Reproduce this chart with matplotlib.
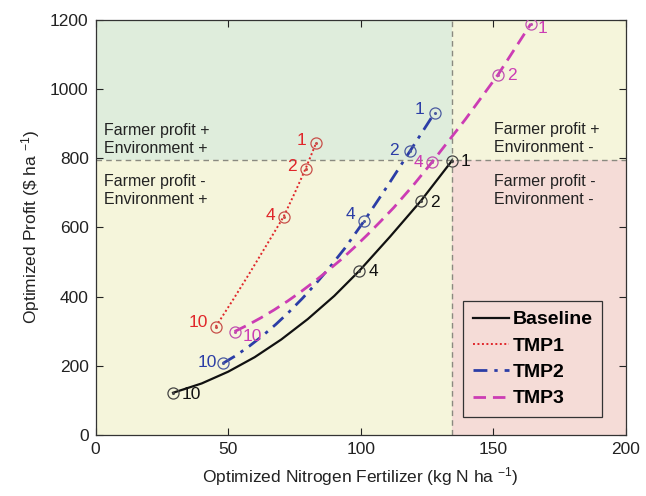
import matplotlib
matplotlib.use("Agg")
import matplotlib.pyplot as plt
from matplotlib.patches import Rectangle

plt.rcParams['font.family'] = ['Liberation Sans', 'DejaVu Sans']
plt.rcParams['mathtext.fontset'] = 'custom'
plt.rcParams['mathtext.rm'] = 'Liberation Sans'
plt.rcParams['mathtext.it'] = 'Liberation Sans'

# Scenario labels at the marked points (price ratio steps)
point_labels = ["1", "2", "4", "10"]

# Baseline
base_curve_n = [29.2, 40.0, 50.0, 60.0, 70.0, 80.0, 90.0, 99.5, 111.0, 122.7, 134.4]
base_curve_p = [122, 149, 183, 225, 276, 335, 402, 475, 573, 677, 793]
base_pts_n = [134.4, 122.7, 99.5, 29.2]
base_pts_p = [793, 677, 475, 122]

# TMP1
tmp1_curve_n = [45.3, 52.0, 58.0, 64.0, 70.9, 75.0, 79.2, 83.1]
tmp1_curve_p = [313, 393, 467, 543, 631, 698, 770, 843]
tmp1_pts_n = [83.1, 79.2, 70.9, 45.3]
tmp1_pts_p = [843, 770, 631, 313]

# TMP2
tmp2_curve_n = [48.0, 53.0, 58.0, 63.0, 68.0, 73.0, 78.0, 83.0, 88.0, 94.0, 101.3, 110.0, 118.6, 127.9]
tmp2_curve_p = [207, 230, 257, 287, 320, 356, 395, 437, 482, 540, 619, 719, 821, 932]
tmp2_pts_n = [127.9, 118.6, 101.3, 48.0]
tmp2_pts_p = [932, 821, 619, 207]

# TMP3
tmp3_curve_n = [52.4, 57.4, 62.4, 67.4, 72.4, 77.4, 82.4, 87.4, 92.4, 97.4, 102.4, 107.4,
                112.4, 119.7, 127.0, 139.4, 151.8, 164.1]
tmp3_curve_p = [299, 318, 339, 362, 387, 414, 443, 474, 506, 541, 578, 617,
                657, 721, 790, 912, 1042, 1188]
tmp3_pts_n = [164.1, 151.8, 127.0, 52.4]
tmp3_pts_p = [1188, 1042, 790, 299]

# Break-even reference (baseline at price ratio 1)
ref_n = 134.5
ref_p = 795

fig = plt.figure(figsize=(6.46, 4.96), dpi=100)
ax = fig.add_axes([0.148, 0.123, 0.821, 0.837])
ax.set_xlim(0, 200)
ax.set_ylim(0, 1200)

# Quadrant shading
green = '#dfeddc'
yellow = '#f5f5db'
pink = '#f5dcd7'
ax.add_patch(Rectangle((0, ref_p), ref_n, 1200 - ref_p, color=green, zorder=0, lw=0))
ax.add_patch(Rectangle((ref_n, ref_p), 200 - ref_n, 1200 - ref_p, color=yellow, zorder=0, lw=0))
ax.add_patch(Rectangle((0, 0), ref_n, ref_p, color=yellow, zorder=0, lw=0))
ax.add_patch(Rectangle((ref_n, 0), 200 - ref_n, ref_p, color=pink, zorder=0, lw=0))
ax.axvline(ref_n, color='#8a8a80', ls=(0, (4, 3)), lw=1.0, zorder=1)
ax.axhline(ref_p, color='#8a8a80', ls=(0, (4, 3)), lw=1.0, zorder=1)

qfs = 11.5
ax.text(3.2, 853, "Farmer profit +\nEnvironment +", fontsize=qfs, va='center', ha='left', color='#222222', linespacing=1.25)
ax.text(3.2, 706, "Farmer profit -\nEnvironment +", fontsize=qfs, va='center', ha='left', color='#222222', linespacing=1.25)
ax.text(150.2, 858, "Farmer profit +\nEnvironment -", fontsize=qfs, va='center', ha='left', color='#222222', linespacing=1.25)
ax.text(150.2, 708, "Farmer profit -\nEnvironment -", fontsize=qfs, va='center', ha='left', color='#222222', linespacing=1.25)

c_base = '#111111'
c_t1 = '#e0262a'
c_t2 = '#2b3da6'
c_t3 = '#cc3cb4'

l0, = ax.plot(base_curve_n, base_curve_p, color=c_base, lw=1.6, zorder=3, label='Baseline')
l1, = ax.plot(tmp1_curve_n, tmp1_curve_p, color=c_t1, lw=1.4, ls=(0, (1, 1.3)), zorder=3, label='TMP1')
l2, = ax.plot(tmp2_curve_n, tmp2_curve_p, color=c_t2, lw=2.0, ls=(0, (5, 2.5, 1.2, 2.5)), zorder=3, label='TMP2')
l3, = ax.plot(tmp3_curve_n, tmp3_curve_p, color=c_t3, lw=2.0, ls=(0, (4.5, 2.5)), zorder=3, label='TMP3')

marker_cols = ['#444444', '#c8504a', '#4a5aa0', '#c050b0']
for (xs, ys), mc in zip([(base_pts_n, base_pts_p), (tmp1_pts_n, tmp1_pts_p),
                         (tmp2_pts_n, tmp2_pts_p), (tmp3_pts_n, tmp3_pts_p)], marker_cols):
    ax.plot(xs, ys, ls='none', marker='o', ms=8, mfc='none', mec=mc, mew=0.9, zorder=4)
    ax.plot(xs, ys, ls='none', marker='o', ms=1.2, mfc=mc, mec=mc, zorder=4)

lfs = 12.5
# label offsets in pixels (dx, dy)
base_off = [(9, -1), (9, -2), (9, -1), (9, -2)]
t1_off = [(-10, 3), (-9, 2), (-8, 1), (-8, 4)]
t2_off = [(-10, 3), (-11, 0), (-9, 6), (-6, 1)]
t3_off = [(7, -5), (9, -1), (-9, -1), (8, -5)]
ha_map = [('left', base_off, base_pts_n, base_pts_p, c_base),
          ('right', t1_off, tmp1_pts_n, tmp1_pts_p, c_t1),
          ('right', t2_off, tmp2_pts_n, tmp2_pts_p, c_t2),
          (None, t3_off, tmp3_pts_n, tmp3_pts_p, c_t3)]
for ha, offs, xs, ys, col in ha_map:
    for lab, x, y, (dx, dy) in zip(point_labels, xs, ys, offs):
        h = ha if ha is not None else ('left' if dx > 0 else 'right')
        ax.annotate(lab, (x, y), xytext=(dx, dy), textcoords='offset pixels',
                    ha=h, va='center', fontsize=lfs, color=col, zorder=5)

ax.set_xticks([0, 50, 100, 150, 200])
ax.set_yticks([0, 200, 400, 600, 800, 1000, 1200])
ax.tick_params(direction='in', top=True, right=True, length=5, width=0.8,
               labelsize=12.5, colors='#222222', pad=5)
for s in ax.spines.values():
    s.set_linewidth(0.9)
    s.set_color('#333333')

ax.set_xlabel(r'Optimized Nitrogen Fertilizer (kg N ha $^{-1}$)', fontsize=12.5, color='#222222', labelpad=6)
ax.set_ylabel(r'Optimized Profit (\$ ha $^{-1}$)', fontsize=12.5, color='#222222', labelpad=6)

leg = ax.legend(handles=[l0, l1, l2, l3], loc='lower right', bbox_to_anchor=(0.955, 0.043),
                prop={'size': 14, 'weight': 'bold'}, frameon=True, fancybox=False,
                handlelength=1.9, handletextpad=0.15, borderpad=0.5, labelspacing=0.45,
                borderaxespad=0)
leg.get_frame().set_edgecolor('#333333')
leg.get_frame().set_linewidth(0.9)
leg.get_frame().set_facecolor(pink)
leg.get_frame().set_alpha(1)

fig.savefig('out.png', dpi=100)
